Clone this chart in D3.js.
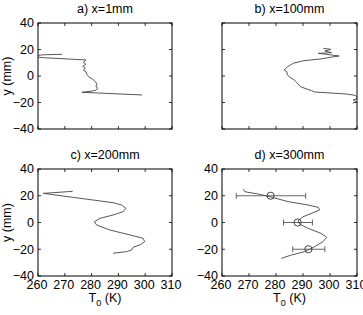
<!DOCTYPE html>
<html>
<head>
<meta charset="utf-8">
<script src="https://cdn.jsdelivr.net/npm/d3@7"></script>
<style>
body { margin: 0; background: #fff; }
svg { display: block; font-family: "Liberation Sans", Arial, Helvetica, sans-serif; }
</style>
</head>
<body>
<svg width="363" height="315"></svg>
<script>
// tick values
var xTicks = [260, 270, 280, 290, 300, 310];
var yTicks = [40, 20, 0, -20, -40];
var titles = ["a) x=1mm", "b) x=100mm", "c) x=200mm", "d) x=300mm"];

// a) x=1mm profile
var aT = [269, 262, 257, 262, 277.9, 276.9, 277.9, 276.7, 277.7, 276.9, 277.9, 278.2, 278.9, 279.8, 280.6, 281.4, 282.0, 281.6, 282.4, 281.4, 280.4, 276.4, 298.8];
var aY = [16.4, 16.0, 15.0, 13.8, 12.1, 10.3, 8.8, 7.3, 5.8, 4.5, 3.3, 1.3, -0.5, -1.7, -2.8, -4.3, -6.3, -8.1, -9.3, -10.8, -11.3, -12.3, -14.3];

// b) x=100mm profile
var bT = [297.5, 300.3, 298.1, 300.6, 295.7, 303.4, 300, 296.3, 290.1, 286.4, 284, 283, 284, 284.2, 285.2, 286.7, 287.7, 289.1, 290.7, 293.2, 294.4, 300, 306.2, 309.3, 310.4, 308.6, 309.6, 308.4];
var bY = [20.9, 20.1, 18.9, 17.6, 17.1, 15.1, 14.1, 12.8, 11.5, 9.6, 6.6, 4.5, 3.3, 0.8, -1, -3, -5, -8.1, -9.3, -11.1, -12.1, -12.8, -13.6, -14.6, -16.8, -18.1, -19.4, -20.6];

// c) x=200mm profile
var cT = [272.9, 265.7, 262, 266.3, 273.1, 280.6, 288, 291.2, 292.8, 291.8, 288, 283.1, 281, 281.9, 286.8, 294.3, 299.2, 299.8, 298, 295.5, 294.9, 293, 288];
var cY = [23.3, 22.3, 21.8, 20.6, 18.8, 16.8, 14.8, 13.1, 10.6, 8.1, 5.6, 3.1, 0.6, -1.9, -5.6, -9.3, -11.8, -14.3, -16.8, -18.5, -20.6, -21.8, -23];

// d) x=300mm profile
var dT = [267.9, 268.5, 273.4, 277.7, 284.5, 291.8, 295.7, 296.1, 293.7, 290, 288.2, 288.7, 291.8, 296.7, 298.8, 297.4, 294.3, 290.6, 285.7, 282];
var dY = [24.8, 23, 21.3, 19.3, 15.6, 13.1, 11.3, 9.3, 7.3, 4.3, 1.3, -1.1, -4.3, -8.1, -11.1, -14.3, -18.1, -21.8, -24.3, -26.8];

// d) measured points with error bars
var measT = [278, 288, 292];
var measY = [20, 0, -20];
var measLo = [265.3, 282.8, 286.2];
var measHi = [291, 293.5, 298.1];

var svg = d3.select("svg");
var fs = 12.5;

var panels = [
	{ x: 38, y: 23, w: 134, h: 106, T: aT, Y: aY, xLab: false, yLab: true },
	{ x: 222, y: 23, w: 135, h: 106, T: bT, Y: bY, xLab: false, yLab: false },
	{ x: 38, y: 169, w: 134, h: 107, T: cT, Y: cY, xLab: true, yLab: true },
	{ x: 222, y: 169, w: 135, h: 107, T: dT, Y: dY, xLab: true, yLab: true }
];

panels.forEach(function(p, i) {
	var xScale = d3.scaleLinear().domain([260, 310]).range([0, p.w]),
		yScale = d3.scaleLinear().domain([-40, 40]).range([p.h, 0]);

	var g = svg.append("g")
		.attr("transform", "translate(" + p.x + "," + p.y + ")");

	g.append("clipPath").attr("id", "clip" + i)
		.append("rect").attr("width", p.w).attr("height", p.h);

	// ticks inside, on all four sides
	var tl = 3;
	g.selectAll(".xt").data(xTicks).enter().append("path")
		.attr("d", d => "M" + xScale(d) + "," + p.h + "v" + (-tl) + "M" + xScale(d) + ",0v" + tl)
		.attr("stroke", "#000").attr("stroke-width", 0.8);
	g.selectAll(".yt").data(yTicks).enter().append("path")
		.attr("d", d => "M0," + yScale(d) + "h" + tl + "M" + p.w + "," + yScale(d) + "h" + (-tl))
		.attr("stroke", "#000").attr("stroke-width", 0.8);

	// profile line
	var pts = p.T.map((t, k) => [t, p.Y[k]]);
	g.append("path")
		.datum(pts)
		.attr("clip-path", "url(#clip" + i + ")")
		.attr("fill", "none")
		.attr("stroke", "#444")
		.attr("stroke-width", 0.9)
		.attr("d", d3.line().x(d => xScale(d[0])).y(d => yScale(d[1])));

	// error bars and circles for panel d
	if (i == 3) {
		var eb = g.selectAll(".eb").data(measT).enter().append("g")
			.attr("stroke", "#555").attr("stroke-width", 0.9).attr("fill", "none");
		eb.append("path")
			.attr("d", (d, k) => "M" + xScale(measLo[k]) + "," + yScale(measY[k]) + "H" + xScale(measHi[k]) +
				"M" + xScale(measLo[k]) + "," + (yScale(measY[k]) - 3) + "v6" +
				"M" + xScale(measHi[k]) + "," + (yScale(measY[k]) - 3) + "v6");
		eb.append("circle")
			.attr("cx", d => xScale(d))
			.attr("cy", (d, k) => yScale(measY[k]))
			.attr("r", 3.6)
			.attr("stroke", "#333");
	}

	// frame
	g.append("rect")
		.attr("width", p.w).attr("height", p.h)
		.attr("fill", "none").attr("stroke", "#000").attr("stroke-width", 1);

	// title
	g.append("text")
		.attr("x", p.w / 2).attr("y", -10)
		.attr("text-anchor", "middle")
		.attr("font-size", fs)
		.text(titles[i]);

	if (p.yLab) {
		g.selectAll(".yl").data(yTicks).enter().append("text")
			.attr("x", -4).attr("y", d => yScale(d))
			.attr("dy", "0.35em")
			.attr("text-anchor", "end")
			.attr("font-size", fs)
			.text(d3.format("d"));
	}
	if (p.xLab) {
		g.selectAll(".xl").data(xTicks).enter().append("text")
			.attr("x", d => xScale(d) - 1).attr("y", p.h + 13)
			.attr("text-anchor", "middle")
			.attr("font-size", fs)
			.text(d => d);
		var xl = g.append("text")
			.attr("x", p.w / 2).attr("y", p.h + 26)
			.attr("text-anchor", "middle")
			.attr("font-size", fs);
		xl.append("tspan").text("T");
		xl.append("tspan").attr("font-size", 9).attr("dy", 4).text("0");
		xl.append("tspan").attr("dy", -4).text(" (K)");
	}
	// y axis title only on left column
	if (p.x < 100) {
		g.append("text")
			.attr("transform", "translate(" + (-27) + "," + (p.h / 2) + ")rotate(-90)")
			.attr("text-anchor", "middle")
			.attr("font-size", fs)
			.text("y (mm)");
	}
});
</script>
</body>
</html>
